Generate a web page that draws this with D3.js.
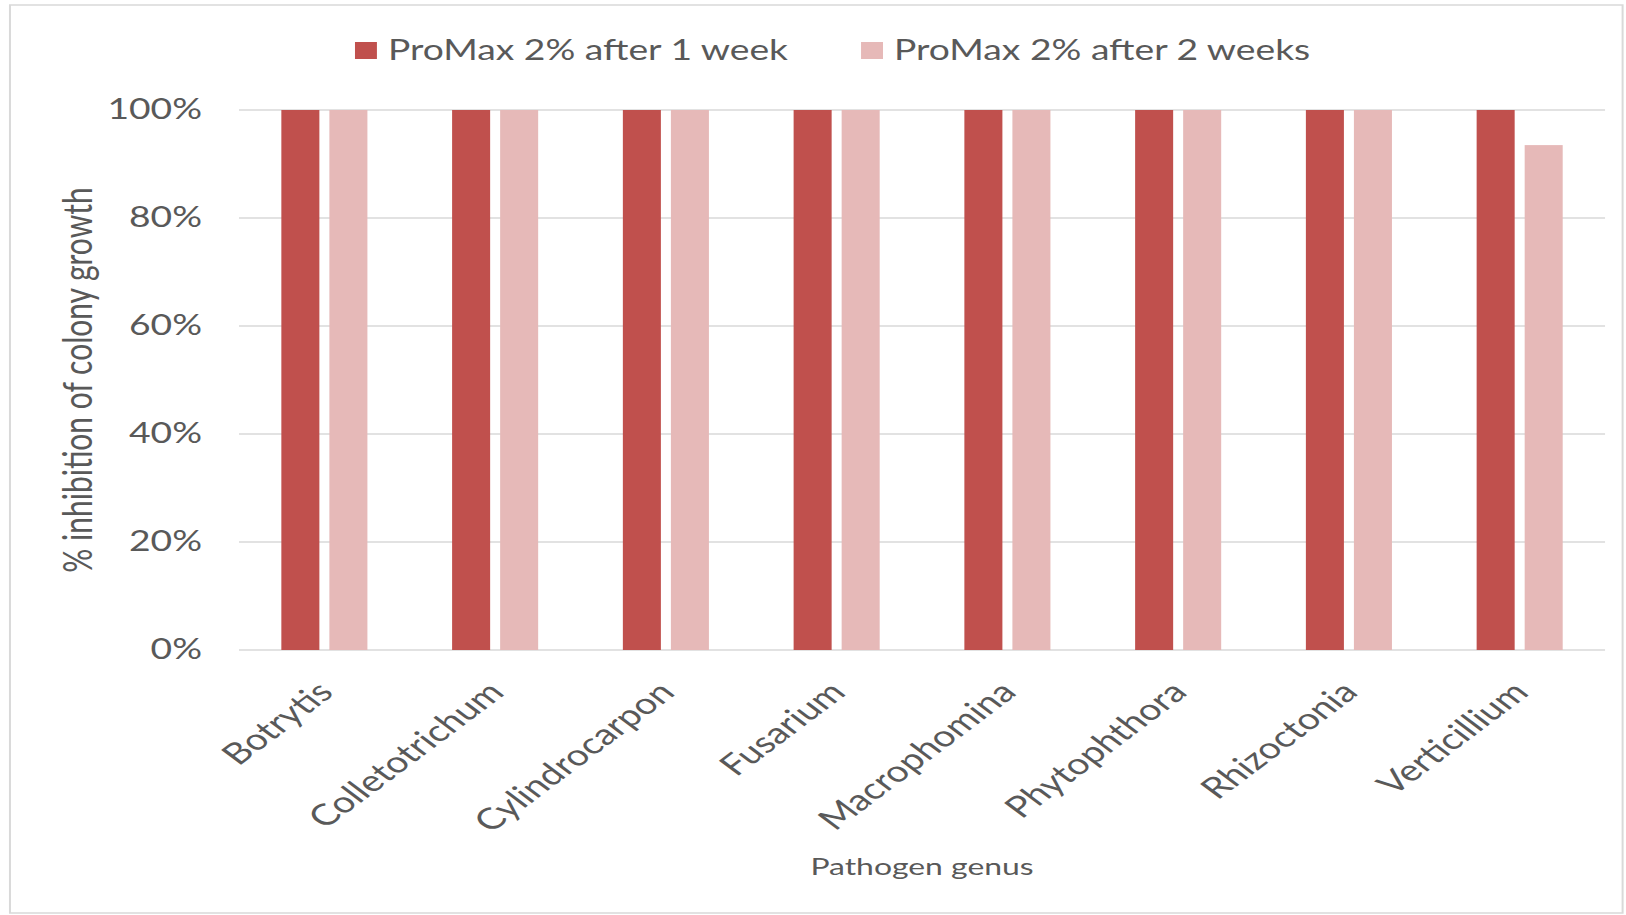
<!DOCTYPE html>
<html>
<head>
<meta charset="utf-8">
<script src="https://cdnjs.cloudflare.com/ajax/libs/d3/7.8.5/d3.min.js"></script>
<style>
  html, body { margin: 0; padding: 0; background: #fff; }
  text { font-family: Lato, "Open Sans", sans-serif; fill: #595959; }
</style>
</head>
<body>
<div id="my_dataviz"></div>
<script>
// data
var categories = ["Botrytis", "Colletotrichum", "Cylindrocarpon", "Fusarium",
                  "Macrophomina", "Phytophthora", "Rhizoctonia", "Verticillium"];
var seriesNames = ["ProMax 2% after 1 week", "ProMax 2% after 2 weeks"];
var week1 = [1, 1, 1, 1, 1, 1, 1, 1];
var week2 = [1, 1, 1, 1, 1, 1, 1, 0.935];
var yTicks = [0, 0.2, 0.4, 0.6, 0.8, 1];
var colors = ["#C0504D", "#E6B9B8"];

// the reference picture is stretched sideways, so draw in a narrower
// coordinate space and let the viewBox stretch it back out
var stretch = 1.33,
    fullWidth = 1626,
    fullHeight = 915,
    innerWidth = fullWidth / stretch;

var margin = {top: 110, right: innerWidth - 1206.8, bottom: fullHeight - 650, left: 179.7},
    width = innerWidth - margin.left - margin.right,
    height = fullHeight - margin.top - margin.bottom;

var table = categories.map(function(c, i) {
  return {cat: c, values: [week1[i], week2[i]]};
});

var root = d3.select("#my_dataviz")
  .append("svg")
    .attr("width", fullWidth)
    .attr("height", fullHeight)
    .attr("viewBox", "0 0 " + innerWidth + " " + fullHeight)
    .attr("preserveAspectRatio", "none")
    .style("display", "block");

// outer chart border
root.append("rect")
  .attr("x", 7.5)
  .attr("y", 5)
  .attr("width", 1220 - 7.5)
  .attr("height", 913 - 5)
  .attr("fill", "none")
  .attr("stroke", "#D9D9D9")
  .attr("stroke-width", 1.5);

var svg = root.append("g")
  .attr("transform", "translate(" + margin.left + "," + margin.top + ")");

// scales
var x0 = d3.scaleBand()
  .domain(categories)
  .range([0, width])
  .paddingInner(0.496)
  .paddingOuter(0.248);

var x1 = d3.scaleBand()
  .domain([0, 1])
  .range([0, x0.bandwidth()])
  .paddingInner(0.2083);

var y = d3.scaleLinear()
  .domain([0, 1])
  .range([height, 0]);

// gridlines
svg.append("g")
  .selectAll("line")
  .data(yTicks)
  .enter()
  .append("line")
    .attr("x1", 0)
    .attr("x2", width)
    .attr("y1", function(d) { return y(d); })
    .attr("y2", function(d) { return y(d); })
    .attr("stroke", "#D9D9D9")
    .attr("stroke-width", 1.5);

// Y axis
var yAxis = svg.append("g")
  .call(d3.axisLeft(y).tickValues(yTicks).tickFormat(d3.format(".0%")).tickSize(0).tickPadding(27.8));
yAxis.select(".domain").remove();
yAxis.selectAll("text")
  .attr("font-size", 28)
  .attr("fill", "#595959")
  .style("font-family", "Lato, sans-serif");

// bars
var groups = svg.selectAll(".group")
  .data(table)
  .enter()
  .append("g")
    .attr("class", "group")
    .attr("transform", function(d) { return "translate(" + x0(d.cat) + ",0)"; });

groups.selectAll("rect")
  .data(function(d) { return d.values.map(function(v, i) { return {i: i, v: v}; }); })
  .enter()
  .append("rect")
    .attr("x", function(d) { return x1(d.i); })
    .attr("width", x1.bandwidth())
    .attr("y", function(d) { return y(d.v); })
    .attr("height", function(d) { return height - y(d.v); })
    .attr("fill", function(d) { return colors[d.i]; });

// X axis labels, rotated
var xAxis = svg.append("g")
  .attr("transform", "translate(0," + height + ")")
  .call(d3.axisBottom(x0).tickSize(0));
xAxis.select(".domain").remove();
xAxis.selectAll(".tick text")
  .attr("font-size", 29.5)
  .attr("fill", "#595959")
  .style("font-family", "Lato, sans-serif")
  .attr("text-anchor", "end")
  .attr("dy", 0)
  .attr("y", 0)
  .attr("transform", "translate(8,44) rotate(-45)");

// axis titles
svg.append("text")
  .attr("x", width / 2)
  .attr("y", 875 - margin.top)
  .attr("text-anchor", "middle")
  .attr("font-size", 24)
  .text("Pathogen genus");

svg.append("text")
  .attr("transform", "translate(" + (58.6 - margin.left) + "," + (height / 2) + ") rotate(-90)")
  .attr("text-anchor", "middle")
  .attr("dy", "0.35em")
  .attr("font-size", 30)
  .text("% inhibition of colony growth");

// legend
var legendX = [266.9, 647.4];
var legend = root.selectAll(".legend")
  .data(seriesNames)
  .enter()
  .append("g")
    .attr("class", "legend")
    .attr("transform", function(d, i) { return "translate(" + legendX[i] + ",42)"; });

legend.append("rect")
  .attr("width", 16.5)
  .attr("height", 17)
  .attr("fill", function(d, i) { return colors[i]; });

legend.append("text")
  .attr("x", 24.8)
  .attr("y", 8.5)
  .attr("dy", "0.35em")
  .attr("font-size", 28)
  .text(function(d) { return d; });
</script>
</body>
</html>
